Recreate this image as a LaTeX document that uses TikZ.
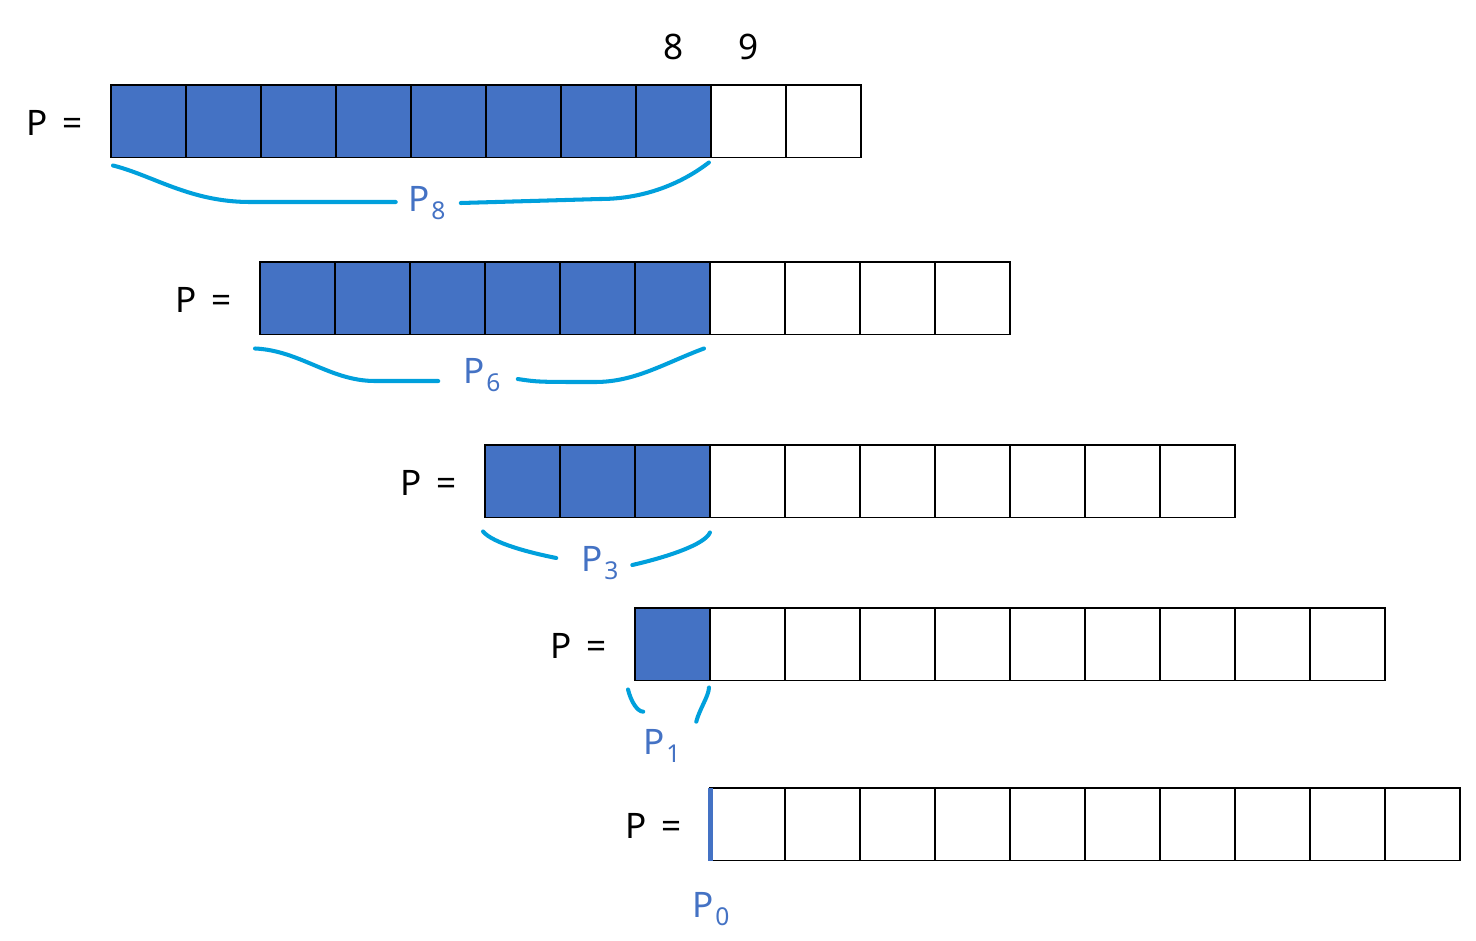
\documentclass[tikz,border=0pt]{standalone}
\usepackage{fontspec}
\setmainfont{Noto Sans}
\usetikzlibrary{positioning,calc}
\definecolor{cellblue}{HTML}{4472C4}
\definecolor{bracecyan}{HTML}{00A0DC}
\newcommand{\Pidx}[1]{P\hspace{0.03cm}\raisebox{-4.5pt}{\fontsize{14}{14}\selectfont #1}}

\begin{document}
\begin{tikzpicture}[x=0.02cm,y=-0.02cm,node distance=0pt,
		font=\fontsize{20}{24}\selectfont,
		cell/.style={draw,line width=1.1pt,minimum width=1.5cm,minimum height=1.45cm,inner sep=0pt,outer sep=0pt},
		txt/.style={inner sep=0pt},
		lbl/.style={text=cellblue,inner sep=0.25cm},
		brace/.style={bracecyan,line width=2.3pt,line cap=round,line join=round}]
	\useasboundingbox (0,0) rectangle (1476,940);
	\foreach \r/\x/\y/\n in {1/111/85/8,2/260/262/6,3/485/445/3,4/635/608/1,5/710/788/0}{
		\ifnum\n>0 \def\cf{cellblue}\else\def\cf{white}\fi
		\node[cell,fill=\cf,anchor=north west] (r\r c1) at (\x,\y) {};
		\foreach \c in {2,...,10}{
			\pgfmathtruncatemacro\prev{\c-1}
			\ifnum\c>\n \def\cf{white}\else\def\cf{cellblue}\fi
			\node[cell,fill=\cf] [right=of r\r c\prev] (r\r c\c) {};
		}
		\node[txt] [left=0.56cm of r\r c1,yshift=-0.03cm] (eq\r) {P\hspace{0.3cm}=};
	}
	\node[txt] [above=0.5cm of r1c8] (top8) {8};
	\node[txt] [above=0.5cm of r1c9] (top9) {9};
	\draw[cellblue,line width=0.1cm] (r5c1.north west) -- (r5c1.south west);

	\node[lbl] (p8) at (427,203) {\Pidx{8}};
	\node[lbl] (p6) at (482,375) {\Pidx{6}};
	\node[lbl] (p3) at (600,563) {\Pidx{3}};
	\node[lbl] (p1) at (662,746) {\Pidx{1}};
	\node[lbl] (p0) at (711,909) {\Pidx{0}};

	\draw[brace] ([shift={(2,8)}]r1c1.south west) .. controls +(40,10) and +(-60,0) .. (250,202) -- ([yshift=0.02cm]p8.west);
	\draw[brace] ([xshift=0.05cm]p8.east) -- (600,199) .. controls +(50,0) and +(-22,17) .. ([shift={(-2,5)}]r1c8.south east);
	\draw[brace] ([shift={(-5,14)}]r2c1.south west) .. controls +(45,2) and +(-45,0) .. (375,381) -- ([shift={(-12.5,6)}]p6.west);
	\draw[brace] ([shift={(4.5,4)}]p6.east) .. controls +(20,3) .. (595,382) .. controls +(40,0) and +(-40,15) .. ([shift={(-6,14)}]r2c6.south east);
	\draw[brace] ([shift={(-2,14)}]r3c1.south west) .. controls +(10,12) and +(-25,-5) .. ([shift={(-12.5,-5)}]p3.west);
	\draw[brace] ([shift={(1,2)}]p3.east) .. controls +(35,-8) and +(-5,12) .. ([shift={(0,15)}]r3c3.south east);
	\draw[brace] ([shift={(-7,9)}]r4c1.south west) .. controls +(3,12) and +(-6,0) .. ([shift={(12.5,-5)}]p1.north west);
	\draw[brace] ([shift={(3,5)}]p1.north east) .. controls +(3,-12) and +(0,8) .. ([shift={(-1,7)}]r4c1.south east);
\end{tikzpicture}
\end{document}
